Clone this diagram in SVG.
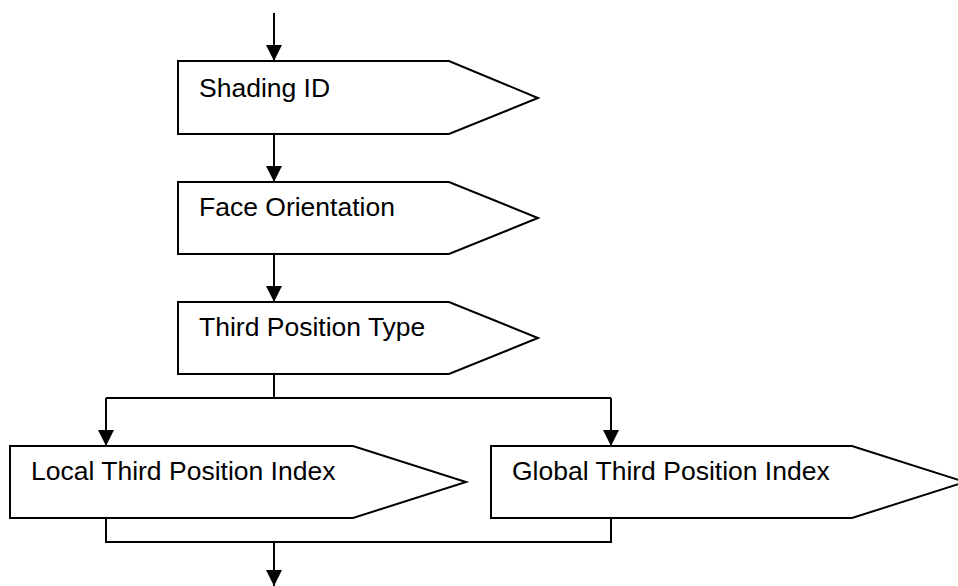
<svg xmlns="http://www.w3.org/2000/svg" width="958" height="586" viewBox="0 0 958 586">
<defs>
<marker id="ah" markerWidth="16" markerHeight="16" refX="16" refY="8" orient="auto" markerUnits="userSpaceOnUse">
<path d="M0,0 L16,8 L0,16 Z" fill="#000"/>
</marker>
<style>
.n{fill:#fff;stroke:#000;stroke-width:2}
.t{font-family:"Liberation Sans",Arial,sans-serif;font-size:26.5px;fill:#000}
.c{fill:none;stroke:#000;stroke-width:2}
</style>
</defs>
<rect width="958" height="586" fill="#fff"/>
<g id="connectors">
<path class="c" d="M274,13 V61" marker-end="url(#ah)"/>
<path class="c" d="M274,134 V182" marker-end="url(#ah)"/>
<path class="c" d="M274,254 V302" marker-end="url(#ah)"/>
<path class="c" d="M274,374 V398"/>
<path class="c" d="M106,398 H611"/>
<path class="c" d="M106,398 V446" marker-end="url(#ah)"/>
<path class="c" d="M611,398 V446" marker-end="url(#ah)"/>
<path class="c" d="M106,518 V542 H611 V518"/>
<path class="c" d="M274,542 V586" marker-end="url(#ah)"/>
</g>
<g id="shading-id">
<path class="n" d="M178,61 H449 L538,98 L449,134 H178 Z"/>
<text class="t" x="199" y="97">Shading ID</text>
</g>
<g id="face-orientation">
<path class="n" d="M178,182 H449 L538,218 L449,254 H178 Z"/>
<text class="t" x="199" y="216">Face Orientation</text>
</g>
<g id="third-position-type">
<path class="n" d="M178,302 H449 L538,338 L449,374 H178 Z"/>
<text class="t" x="199" y="336">Third Position Type</text>
</g>
<g id="local-third-position-index">
<path class="n" d="M10,446 H353 L466,482 L353,518 H10 Z"/>
<text class="t" x="31" y="480">Local Third Position Index</text>
</g>
<g id="global-third-position-index">
<path class="n" d="M491,446 H852 L965,482 L852,518 H491 Z"/>
<text class="t" x="512" y="480">Global Third Position Index</text>
</g>
</svg>
